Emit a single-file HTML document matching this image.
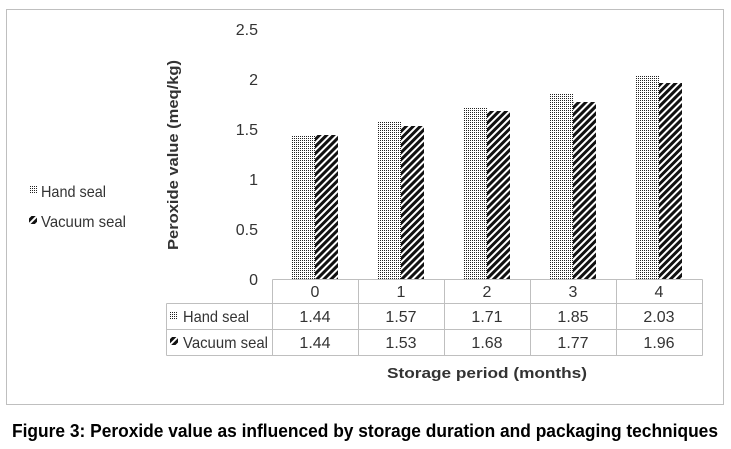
<!DOCTYPE html>
<html><head><style>body{margin:0;background:#fff}svg{display:block}</style></head><body>
<svg width="731" height="449" xmlns="http://www.w3.org/2000/svg" font-family="Liberation Sans, sans-serif">
<defs>
<pattern id="dot" width="2" height="2" patternUnits="userSpaceOnUse"><rect width="2" height="2" fill="#fff"/><rect width="1" height="1" fill="#222"/></pattern>
<pattern id="diag" width="5" height="5" patternUnits="userSpaceOnUse" patternTransform="rotate(45)"><rect width="5" height="5" fill="#fff"/><rect width="3" height="5" fill="#111"/></pattern>
</defs>
<rect x="6.5" y="9.5" width="717" height="395" fill="#fff" stroke="#bfbfbf"/>
<g font-size="16" fill="#333" text-anchor="end">
<text x="258" y="35">2.5</text><text x="258" y="85">2</text><text x="258" y="135">1.5</text><text x="258" y="185">1</text><text x="258" y="235">0.5</text><text x="258" y="285">0</text>
</g>
<text transform="translate(178,155) rotate(-90)" text-anchor="middle" font-size="15" font-weight="bold" fill="#333" textLength="190" lengthAdjust="spacingAndGlyphs">Peroxide value (meq/kg)</text>
<g>
<rect x="292" y="135" width="23" height="144" fill="url(#dot)"/><rect x="315" y="135" width="23" height="144" fill="url(#diag)"/>
<rect x="378" y="122" width="23" height="157" fill="url(#dot)"/><rect x="401" y="126" width="23" height="153" fill="url(#diag)"/>
<rect x="464" y="108" width="23" height="171" fill="url(#dot)"/><rect x="487" y="111" width="23" height="168" fill="url(#diag)"/>
<rect x="550" y="94" width="23" height="185" fill="url(#dot)"/><rect x="573" y="102" width="23" height="177" fill="url(#diag)"/>
<rect x="636" y="76" width="23" height="203" fill="url(#dot)"/><rect x="659" y="83" width="23" height="196" fill="url(#diag)"/>
</g>
<g stroke="#bfbfbf" fill="none">
<path d="M272.5 279.5H702.5M166.5 303.5H702.5M166.5 329.5H702.5M166.5 355.5H702.5"/>
<path d="M272.5 279.5V355.5M358.5 279.5V355.5M444.5 279.5V355.5M530.5 279.5V355.5M616.5 279.5V355.5M702.5 279.5V355.5M166.5 303.5V355.5"/>
</g>
<g font-size="16" fill="#333" text-anchor="middle">
<text x="315" y="297">0</text><text x="401" y="297">1</text><text x="487" y="297">2</text><text x="573" y="297">3</text><text x="659" y="297">4</text>
<text x="315" y="322">1.44</text><text x="401" y="322">1.57</text><text x="487" y="322">1.71</text><text x="573" y="322">1.85</text><text x="659" y="322">2.03</text>
<text x="315" y="348">1.44</text><text x="401" y="348">1.53</text><text x="487" y="348">1.68</text><text x="573" y="348">1.77</text><text x="659" y="348">1.96</text>
</g>
<rect x="170" y="311" width="8" height="8" fill="url(#dot)"/>
<text x="183" y="322" font-size="16" fill="#333" textLength="66" lengthAdjust="spacingAndGlyphs">Hand seal</text>
<rect x="170" y="337" width="8" height="8" fill="url(#diag)"/>
<text x="183" y="348" font-size="16" fill="#333" textLength="85" lengthAdjust="spacingAndGlyphs">Vacuum seal</text>
<rect x="29" y="186" width="8" height="8" fill="url(#dot)"/>
<text x="41" y="197" font-size="16" fill="#333" textLength="65" lengthAdjust="spacingAndGlyphs">Hand seal</text>
<rect x="29" y="216" width="8" height="8" fill="url(#diag)"/>
<text x="41" y="227" font-size="16" fill="#333" textLength="85" lengthAdjust="spacingAndGlyphs">Vacuum seal</text>
<text x="487" y="378" text-anchor="middle" font-size="15" font-weight="bold" fill="#333" textLength="200" lengthAdjust="spacingAndGlyphs">Storage period (months)</text>
<text x="365" y="437" text-anchor="middle" font-size="18" font-weight="bold" fill="#000" textLength="706" lengthAdjust="spacingAndGlyphs">Figure 3: Peroxide value as influenced by storage duration and packaging techniques</text>
</svg>
</body></html>
